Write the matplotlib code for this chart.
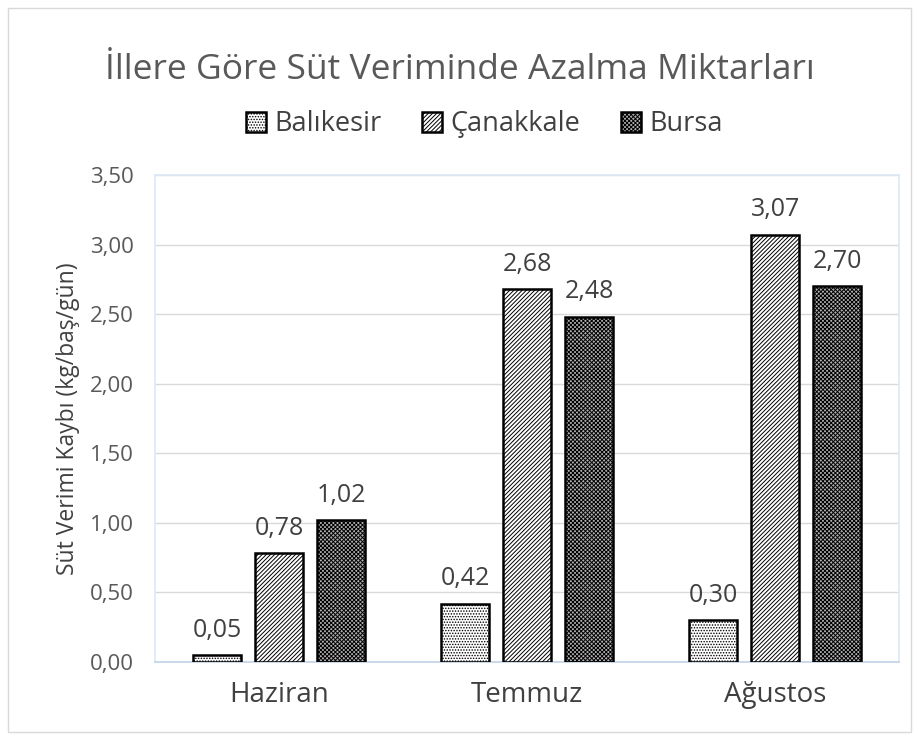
import numpy as np
import matplotlib.pyplot as plt
from matplotlib.patches import Rectangle

months = ['Haziran', 'Temmuz', 'Ağustos']
balikesir = [0.05, 0.42, 0.30]
canakkale = [0.78, 2.68, 3.07]
bursa = [1.02, 2.48, 2.70]
yticks = [0.0, 0.5, 1.0, 1.5, 2.0, 2.5, 3.0, 3.5]

plt.rcParams['font.family'] = ['Open Sans', 'DejaVu Sans']
plt.rcParams['hatch.linewidth'] = 0.7
grey = '#595959'
dark = '#404040'

fig = plt.figure(figsize=(9.19, 7.40), dpi=100)
ax = fig.add_axes([0.1687, 0.1054, 0.810, 0.658])

x = np.arange(len(months))
w = 0.194
off = 0.25
series = [
    ('Balıkesir', balikesir, 'white', '......'),
    ('Çanakkale', canakkale, 'white', '////////'),
    ('Bursa', bursa, '#b0b0b0', 'xxxxxxxx'),
]
for i, (name, vals, fc, hatch) in enumerate(series):
    bars = ax.bar(x + (i - 1) * off, vals, w, color=fc, edgecolor='black',
                  linewidth=1.8, hatch=hatch, label=name, zorder=3)
    for b, v in zip(bars, vals):
        ax.text(b.get_x() + b.get_width() / 2, v + 0.09, f'{v:.2f}'.replace('.', ','),
                ha='center', va='bottom', fontsize=18, color=dark)

ax.set_xlim(-0.5, 2.5)
ax.set_ylim(0, 3.5)
ax.set_yticks(yticks)
ax.set_yticklabels([f'{t:.2f}'.replace('.', ',') for t in yticks], fontsize=16, color=grey)
ax.set_xticks(x)
ax.set_xticklabels(months, fontsize=20, color=dark)
ax.tick_params(axis='y', length=0, pad=15)
ax.tick_params(axis='x', length=0, pad=14)
ax.grid(axis='y', color='#d9d9d9', linewidth=1, zorder=0)
for s in ['top', 'right', 'left']:
    ax.spines[s].set_color('#dde9f6')
    ax.spines[s].set_linewidth(1.2)
ax.spines['bottom'].set_color('#c8d8ea')
ax.spines['bottom'].set_linewidth(1.4)
ax.set_ylabel('Süt Verimi Kaybı (kg/baş/gün)', fontsize=16.5, color=dark, labelpad=7)

fig.text(0.5, 0.905, 'İllere Göre Süt Veriminde Azalma Miktarları', ha='center', va='center',
         fontsize=25.5, color=grey)
fig.legend(loc='center', bbox_to_anchor=(0.527, 0.832), ncol=3, frameon=False, fontsize=19.5,
           handlelength=0.75, handleheight=0.75, handletextpad=0.3, columnspacing=1.5,
           labelcolor=dark)

fig.patches.append(Rectangle((0.009, 0.011), 0.982, 0.978, transform=fig.transFigure,
                             fill=False, edgecolor='#d9d9d9', linewidth=1))

fig.savefig('out.png', dpi=100)
